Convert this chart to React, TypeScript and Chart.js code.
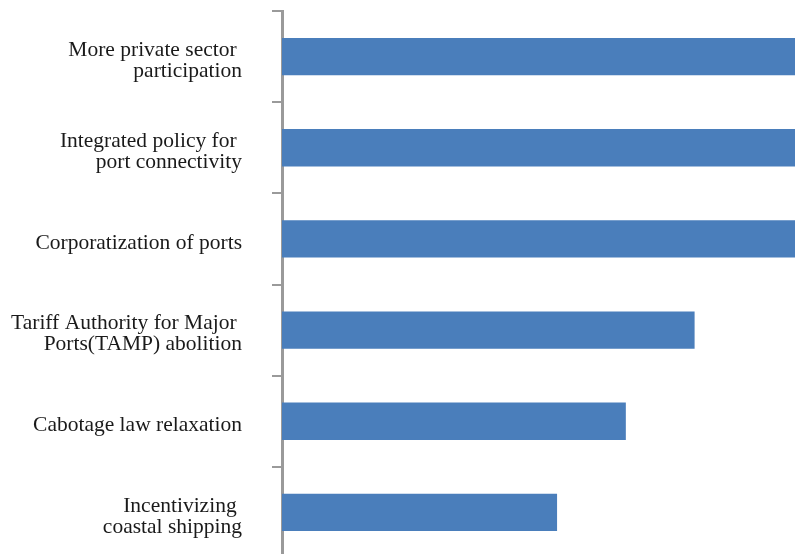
import React, { useEffect, useRef } from "react";
import { Chart, registerables } from "chart.js";

Chart.register(...registerables);

const categories: string[][] = [
  ["More private sector ", "participation"],
  ["Integrated policy for ", "port connectivity"],
  ["Corporatization of ports"],
  ["Tariff Authority for Major ", "Ports(TAMP) abolition"],
  ["Cabotage law relaxation"],
  ["Incentivizing ", "coastal shipping"],
];
const values: number[] = [90, 85, 80, 60, 50, 40];

export default function App() {
  const ref = useRef<HTMLCanvasElement | null>(null);
  useEffect(() => {
    if (!ref.current) return;
    const chart = new Chart(ref.current, {
      type: "bar",
      data: {
        labels: categories,
        datasets: [
          {
            data: values,
            backgroundColor: "#4A7EBB",
            borderWidth: 0,
            categoryPercentage: 1,
            barPercentage: 0.41,
          },
        ],
      },
      options: {
        indexAxis: "y",
        responsive: false,
        animation: false,
        layout: { padding: { top: 11, left: 0, right: 0, bottom: 0 } },
        plugins: { legend: { display: false }, tooltip: { enabled: false } },
        scales: {
          x: { display: false, min: 0, max: 74.6 },
          y: {
            z: 1,
            afterFit: (s: any) => {
              s.width = 282;
              s.paddingTop = 0;
              s.paddingBottom = 0;
            },
            grid: {
              drawOnChartArea: false,
              drawTicks: true,
              tickLength: 10,
              color: "#9a9a9a",
              lineWidth: 2,
              offset: true,
            },
            border: { display: true, color: "#9a9a9a", width: 3 },
            ticks: {
              padding: 30,
              labelOffset: 4,
              color: "#1a1a1a",
              font: { family: "Liberation Serif", size: 21.5, lineHeight: 0.98 },
            },
          },
        },
      },
    });
    return () => chart.destroy();
  }, []);
  return (
    <div
      style={{
        position: "fixed",
        left: 0,
        top: 0,
        width: 795,
        height: 554,
        overflow: "hidden",
        background: "#fff",
      }}
    >
      <canvas ref={ref} width={795} height={558} style={{ display: "block" }} />
    </div>
  );
}
